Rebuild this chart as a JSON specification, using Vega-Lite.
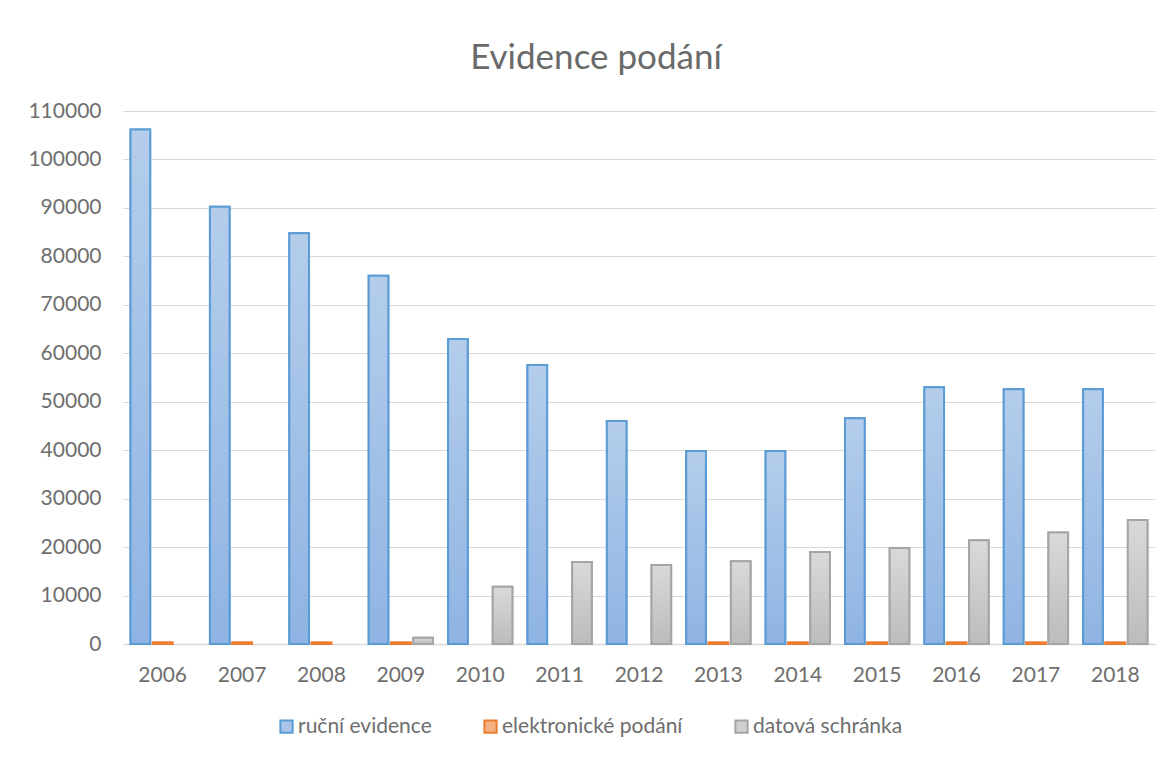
{
  "$schema": "https://vega.github.io/schema/vega-lite/v6.json",
  "width": 1032,
  "height": 533,
  "autosize": "none",
  "padding": {"left": 123, "top": 111, "right": 16, "bottom": 116},
  "background": "white",
  "title": {
    "text": "Evidence podání",
    "anchor": "middle",
    "dx": -43,
    "offset": 24,
    "fontSize": 35,
    "font": "Lato",
    "fontWeight": "normal",
    "color": "#6a6a6a"
  },
  "data": {
    "values": [
      {"year": "2006", "series": "ruční evidence", "value": 106200},
      {"year": "2006", "series": "elektronické podání", "value": 300},
      {"year": "2007", "series": "ruční evidence", "value": 90250},
      {"year": "2007", "series": "elektronické podání", "value": 300},
      {"year": "2008", "series": "ruční evidence", "value": 84750},
      {"year": "2008", "series": "elektronické podání", "value": 300},
      {"year": "2009", "series": "ruční evidence", "value": 76000},
      {"year": "2009", "series": "elektronické podání", "value": 300},
      {"year": "2009", "series": "datová schránka", "value": 1300},
      {"year": "2010", "series": "ruční evidence", "value": 62950},
      {"year": "2010", "series": "datová schránka", "value": 11800},
      {"year": "2011", "series": "ruční evidence", "value": 57600},
      {"year": "2011", "series": "datová schránka", "value": 16900},
      {"year": "2012", "series": "ruční evidence", "value": 46000},
      {"year": "2012", "series": "datová schránka", "value": 16300},
      {"year": "2013", "series": "ruční evidence", "value": 39850},
      {"year": "2013", "series": "elektronické podání", "value": 300},
      {"year": "2013", "series": "datová schránka", "value": 17100},
      {"year": "2014", "series": "ruční evidence", "value": 39850},
      {"year": "2014", "series": "elektronické podání", "value": 300},
      {"year": "2014", "series": "datová schránka", "value": 19000},
      {"year": "2015", "series": "ruční evidence", "value": 46600},
      {"year": "2015", "series": "elektronické podání", "value": 300},
      {"year": "2015", "series": "datová schránka", "value": 19800},
      {"year": "2016", "series": "ruční evidence", "value": 53000},
      {"year": "2016", "series": "elektronické podání", "value": 300},
      {"year": "2016", "series": "datová schránka", "value": 21400},
      {"year": "2017", "series": "ruční evidence", "value": 52600},
      {"year": "2017", "series": "elektronické podání", "value": 300},
      {"year": "2017", "series": "datová schránka", "value": 23000},
      {"year": "2018", "series": "ruční evidence", "value": 52600},
      {"year": "2018", "series": "elektronické podání", "value": 300},
      {"year": "2018", "series": "datová schránka", "value": 25600}
    ]
  },
  "encoding": {
    "x": {
      "field": "year",
      "type": "nominal",
      "title": null,
      "scale": {"paddingInner": 0.19, "paddingOuter": 0.095},
      "axis": {
        "labelAngle": 0,
        "ticks": false,
        "domainColor": "#d9d9d9",
        "domainWidth": 1.5,
        "labelFont": "Lato",
        "labelFontSize": 21,
        "labelColor": "#6e6e6e",
        "labelPadding": 20,
        "grid": false
      }
    },
    "xOffset": {
      "field": "series",
      "type": "nominal",
      "scale": {"domain": ["ruční evidence", "elektronické podání", "datová schránka"], "paddingInner": 0.12, "paddingOuter": 0}
    },
    "y": {
      "field": "value",
      "type": "quantitative",
      "title": null,
      "scale": {"domain": [0, 110000], "nice": false},
      "axis": {
        "values": [0, 10000, 20000, 30000, 40000, 50000, 60000, 70000, 80000, 90000, 100000, 110000],
        "format": "d",
        "domain": false,
        "ticks": false,
        "gridColor": "#d9d9d9",
        "gridWidth": 1.2,
        "labelFont": "Lato",
        "labelFontSize": 21,
        "labelColor": "#6e6e6e",
        "labelPadding": 22
      }
    }
  },
  "layer": [
    {
      "mark": {"type": "bar", "strokeWidth": 2},
      "encoding": {
        "fill": {
          "field": "series",
          "type": "nominal",
          "scale": {"domain": ["ruční evidence", "elektronické podání", "datová schránka"], "range": ["#a9c6ea", "#f4b183", "#d0d0d0"]},
          "legend": {
            "title": null,
            "orient": "none",
            "legendX": 153,
            "legendY": 605,
            "direction": "horizontal",
            "symbolType": "square",
            "symbolSize": 150,
            "symbolStrokeWidth": 2,
            "labelFont": "Lato",
            "labelFontSize": 21,
            "labelColor": "#6e6e6e",
            "labelLimit": 0,
            "columnPadding": 48,
            "labelOffset": 1
          }
        },
        "stroke": {
          "field": "series",
          "type": "nominal",
          "scale": {"domain": ["ruční evidence", "elektronické podání", "datová schránka"], "range": ["#5b9bd5", "#ed7d31", "#a5a5a5"]},
          "legend": null
        }
      }
    },
    {
      "transform": [{"filter": "datum.series === 'ruční evidence'"}],
      "mark": {
        "type": "bar",
        "stroke": "#5b9bd5",
        "strokeWidth": 2,
        "fill": {"gradient": "linear", "x1": 0, "y1": 0, "x2": 0, "y2": 1, "stops": [{"offset": 0, "color": "#b4cdeb"}, {"offset": 1, "color": "#8fb4e3"}]}
      }
    },
    {
      "transform": [{"filter": "datum.series === 'elektronické podání'"}],
      "mark": {
        "type": "bar",
        "stroke": "#ed7d31",
        "strokeWidth": 2,
        "fill": {"gradient": "linear", "x1": 0, "y1": 0, "x2": 0, "y2": 1, "stops": [{"offset": 0, "color": "#f8cbad"}, {"offset": 1, "color": "#f4a06a"}]}
      }
    },
    {
      "transform": [{"filter": "datum.series === 'datová schránka'"}],
      "mark": {
        "type": "bar",
        "stroke": "#a5a5a5",
        "strokeWidth": 2,
        "fill": {"gradient": "linear", "x1": 0, "y1": 0, "x2": 0, "y2": 1, "stops": [{"offset": 0, "color": "#d9d9d9"}, {"offset": 1, "color": "#bcbcbc"}]}
      }
    }
  ],
  "config": {
    "view": {"stroke": null}
  }
}
